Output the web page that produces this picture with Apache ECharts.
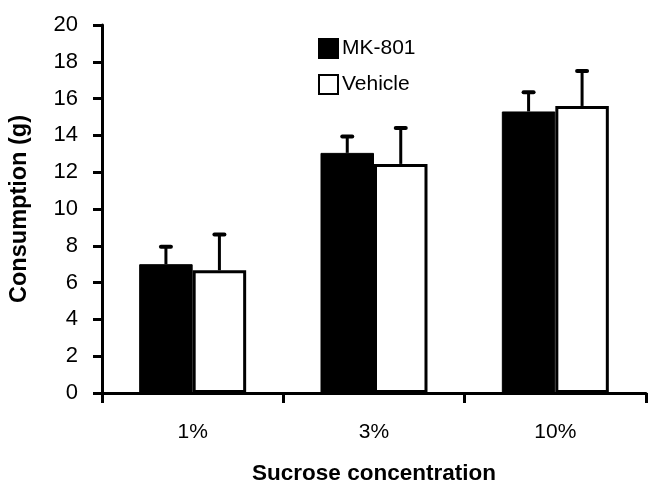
<!DOCTYPE html>
<html>
<head>
<meta charset="utf-8">
<script src="https://cdn.jsdelivr.net/npm/echarts@6/dist/echarts.min.js"></script>
<style>
  html, body { margin: 0; padding: 0; background: #fff; }
  #chart { width: 651px; height: 491px; }
</style>
</head>
<body>
<div id="chart"></div>
<script>
// Sucrose consumption by concentration, MK-801 vs vehicle (mean + SEM)
const categories = ['1%', '3%', '10%'];
const mk801Mean = [7.0, 13.05, 15.3];
const mk801Err = [1.0, 0.95, 1.1];
const vehicleMean = [6.67, 12.45, 15.6];
const vehicleErr = [2.0, 2.0, 1.95];
const yTicks = [0, 2, 4, 6, 8, 10, 12, 14, 16, 18, 20];

const FONT = 'Liberation Sans, Arial, sans-serif';
const BAR_FRAC = 0.295;

function errorSeries(name, means, errs, side) {
  return {
    type: 'custom',
    name: name + ' error',
    silent: true,
    z: 5,
    data: means.map((m, i) => [i, m, m + errs[i]]),
    renderItem: function (params, api) {
      const idx = api.value(0);
      const band = api.size([1, 0])[0];
      const off = side * band * BAR_FRAC / 2;
      const base = api.coord([idx, api.value(1)]);
      const top = api.coord([idx, api.value(2)]);
      const x = base[0] + off;
      return {
        type: 'group',
        children: [
          {
            type: 'line',
            shape: { x1: x, y1: base[1], x2: x, y2: top[1] },
            style: { stroke: '#000', lineWidth: 3 }
          },
          {
            type: 'line',
            shape: { x1: x - 5, y1: top[1] + 1, x2: x + 5, y2: top[1] + 1 },
            style: { stroke: '#000', lineWidth: 4, lineCap: 'round' }
          }
        ]
      };
    }
  };
}

const chart = echarts.init(document.getElementById('chart'));
chart.setOption({
  animation: false,
  backgroundColor: '#fff',
  textStyle: { fontFamily: FONT, color: '#000' },
  grid: { left: 100, right: 5, top: 25, bottom: 98, containLabel: false },
  legend: {
    orient: 'vertical',
    left: 313,
    top: 33,
    itemWidth: 19,
    itemHeight: 19,
    itemGap: 15,
    icon: 'rect',
    data: ['MK-801', 'Vehicle'],
    textStyle: { fontSize: 21, fontFamily: FONT, color: '#000', padding: [0, 0, 0, -1] }
  },
  xAxis: {
    type: 'category',
    data: categories,
    name: 'Sucrose concentration',
    nameLocation: 'middle',
    nameGap: 69,
    nameTextStyle: { fontSize: 22.5, fontWeight: 'bold', fontFamily: FONT, color: '#000' },
    axisLine: { lineStyle: { color: '#000', width: 3 } },
    axisTick: { show: true, interval: 0, length: 10, lineStyle: { color: '#000', width: 3 } },
    axisLabel: { fontSize: 21, color: '#000', margin: 29, fontFamily: FONT }
  },
  yAxis: {
    type: 'value',
    min: 0,
    max: 20,
    interval: 2,
    name: 'Consumption (g)',
    nameLocation: 'middle',
    nameGap: 70,
    nameTextStyle: { fontSize: 23.5, fontWeight: 'bold', fontFamily: FONT, color: '#000' },
    splitLine: { show: false },
    axisLine: { show: true, lineStyle: { color: '#000', width: 3 } },
    axisTick: { show: true, length: 9, lineStyle: { color: '#000', width: 3 } },
    axisLabel: {
      fontSize: 22, color: '#000', margin: 24, fontFamily: FONT,
      formatter: v => (yTicks.indexOf(v) >= 0 ? String(v) : '')
    }
  },
  series: [
    {
      type: 'bar',
      name: 'MK-801',
      data: mk801Mean,
      barWidth: (BAR_FRAC * 100) + '%',
      barGap: '0%',
      itemStyle: { color: '#000', borderColor: '#000', borderWidth: 1 }
    },
    {
      type: 'bar',
      name: 'Vehicle',
      data: vehicleMean,
      barWidth: (BAR_FRAC * 100) + '%',
      barGap: '0%',
      itemStyle: { color: '#fff', borderColor: '#000', borderWidth: 3 }
    },
    errorSeries('MK-801', mk801Mean, mk801Err, -1),
    errorSeries('Vehicle', vehicleMean, vehicleErr, 1)
  ]
});
</script>
</body>
</html>
